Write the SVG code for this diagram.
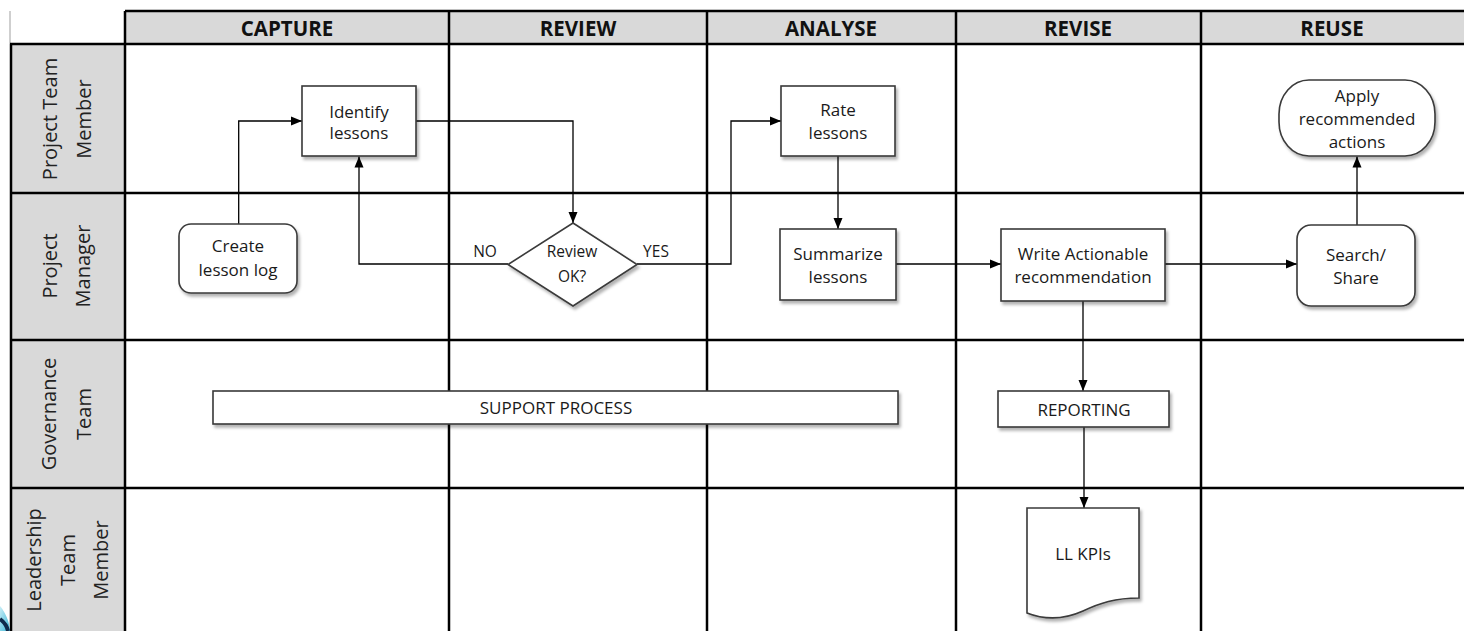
<svg xmlns="http://www.w3.org/2000/svg" width="1464" height="631" viewBox="0 0 1464 631">
<style>
  .grid { stroke: #000; stroke-width: 2.5; fill: none; }
  .lanefill { fill: #d9d9d9; }
  .hdr { font-family: "Open Sans", "Liberation Sans", sans-serif; font-size: 20.5px; font-weight: 700; fill: #111; text-anchor: middle; }
  .lane { font-family: "Open Sans", "Liberation Sans", sans-serif; font-size: 20px; fill: #222; text-anchor: middle; }
  .box { fill: #fff; stroke: #3a3a3a; stroke-width: 1.6; }
  .t { font-family: "Open Sans", "Liberation Sans", sans-serif; font-size: 17px; fill: #1a1a1a; text-anchor: middle; }
  .ts { font-family: "Open Sans", "Liberation Sans", sans-serif; font-size: 15.5px; fill: #1a1a1a; text-anchor: middle; }
  .conn { stroke: #000; stroke-width: 1.3; fill: none; marker-end: url(#arr); }
</style>
<defs>
  <marker id="arr" markerUnits="userSpaceOnUse" markerWidth="12" markerHeight="12" viewBox="0 0 12 12" refX="11" refY="6" orient="auto">
    <path d="M0,1.5 L11,6 L0,10.5 Z" fill="#000"/>
  </marker>
  <filter id="sh" x="-10%" y="-10%" width="130%" height="140%">
    <feDropShadow dx="2" dy="3" stdDeviation="1.6" flood-color="#000" flood-opacity="0.3"/>
  </filter>
  <linearGradient id="sw" x1="0" y1="0" x2="1" y2="1">
    <stop offset="0" stop-color="#c9eef7"/>
    <stop offset="1" stop-color="#3cb6d6"/>
  </linearGradient>
</defs>

<rect width="1464" height="631" fill="#fff"/>

<g id="swimlanes">
  <rect class="lanefill" x="125" y="11" width="1339" height="33"/>
  <rect class="lanefill" x="10" y="44" width="115" height="587"/>
  <line x1="10" y1="11" x2="10" y2="44" stroke="#cfcfcf" stroke-width="2"/>
  <line class="grid" x1="125" y1="11" x2="1464" y2="11"/>
  <line class="grid" x1="10" y1="44" x2="1464" y2="44"/>
  <line class="grid" x1="10" y1="193" x2="1464" y2="193"/>
  <line class="grid" x1="10" y1="340" x2="1464" y2="340"/>
  <line class="grid" x1="10" y1="488" x2="1464" y2="488"/>
  <line class="grid" x1="11" y1="44" x2="11" y2="631"/>
  <line class="grid" x1="125" y1="11" x2="125" y2="631"/>
  <line class="grid" x1="449" y1="11" x2="449" y2="631"/>
  <line class="grid" x1="707" y1="11" x2="707" y2="631"/>
  <line class="grid" x1="956" y1="11" x2="956" y2="631"/>
  <line class="grid" x1="1201" y1="11" x2="1201" y2="631"/>

  <text class="hdr" x="287" y="36">CAPTURE</text>
  <text class="hdr" x="578" y="36">REVIEW</text>
  <text class="hdr" x="831" y="36">ANALYSE</text>
  <text class="hdr" x="1078" y="36">REVISE</text>
  <text class="hdr" x="1332" y="36">REUSE</text>

  <text class="lane" transform="translate(57,119) rotate(-90)">Project Team</text>
  <text class="lane" transform="translate(91,119) rotate(-90)">Member</text>
  <text class="lane" transform="translate(57,266) rotate(-90)">Project</text>
  <text class="lane" transform="translate(90,266) rotate(-90)">Manager</text>
  <text class="lane" transform="translate(56,414) rotate(-90)">Governance</text>
  <text class="lane" transform="translate(91,414) rotate(-90)">Team</text>
  <text class="lane" transform="translate(41,560) rotate(-90)">Leadership</text>
  <text class="lane" transform="translate(75,560) rotate(-90)">Team</text>
  <text class="lane" transform="translate(108,560) rotate(-90)">Member</text>
</g>

<g id="decoration">
  <path d="M0,606 C5,612 9,620 10,631 L0,631 Z" fill="url(#sw)"/>
  <path d="M0,619 C4,622 7,626 8,631" stroke="#0f2a4a" stroke-width="4" fill="none"/>
</g>

<g id="connectors">
  <path class="conn" d="M238.7,224 V121 H302"/>
  <path class="conn" d="M416,121 H573 V223"/>
  <path class="conn" d="M508,264 H359 V156.5"/>
  <path class="conn" d="M637,264 H731 V121 H781"/>
  <path class="conn" d="M838,156 V229"/>
  <path class="conn" d="M896,264 H1001"/>
  <path class="conn" d="M1165,264 H1297"/>
  <path class="conn" d="M1357,225 V156.5"/>
  <path class="conn" d="M1083,301 V391"/>
  <path class="conn" d="M1084,427 V508"/>
</g>

<g id="create-lesson-log">
  <rect class="box" filter="url(#sh)" x="179" y="224" width="118" height="69" rx="12"/>
  <text class="t" x="238" y="252">Create</text>
  <text class="t" x="238" y="276">lesson log</text>
</g>

<g id="identify-lessons">
  <rect class="box" filter="url(#sh)" x="302" y="86" width="114" height="70"/>
  <text class="t" x="359" y="118">Identify</text>
  <text class="t" x="359" y="139">lessons</text>
</g>

<g id="review-ok">
  <polygon class="box" filter="url(#sh)" points="573,223 637,264.5 573,306 508,264.5"/>
  <text class="ts" x="572" y="257">Review</text>
  <text class="ts" x="572" y="282">OK?</text>
  <text class="ts" x="485" y="257">NO</text>
  <text class="ts" x="656" y="257">YES</text>
</g>

<g id="rate-lessons">
  <rect class="box" filter="url(#sh)" x="781" y="86" width="114" height="70"/>
  <text class="t" x="838" y="116">Rate</text>
  <text class="t" x="838" y="139">lessons</text>
</g>

<g id="summarize-lessons">
  <rect class="box" filter="url(#sh)" x="780" y="229" width="116" height="71"/>
  <text class="t" x="838" y="260">Summarize</text>
  <text class="t" x="838" y="283">lessons</text>
</g>

<g id="write-actionable">
  <rect class="box" filter="url(#sh)" x="1001" y="229" width="164" height="72"/>
  <text class="t" x="1083" y="260">Write Actionable</text>
  <text class="t" x="1083" y="283">recommendation</text>
</g>

<g id="search-share">
  <rect class="box" filter="url(#sh)" x="1297" y="225" width="118" height="81" rx="14"/>
  <text class="t" x="1356" y="261">Search/</text>
  <text class="t" x="1356" y="284">Share</text>
</g>

<g id="apply-actions">
  <rect class="box" filter="url(#sh)" x="1279" y="80" width="156" height="76" rx="30" ry="34"/>
  <text class="t" x="1357" y="102">Apply</text>
  <text class="t" x="1357" y="125">recommended</text>
  <text class="t" x="1357" y="148">actions</text>
</g>

<g id="support-process">
  <rect class="box" filter="url(#sh)" x="213" y="391" width="685" height="33"/>
  <text class="t" x="556" y="414">SUPPORT PROCESS</text>
</g>

<g id="reporting">
  <rect class="box" filter="url(#sh)" x="998" y="391" width="171" height="36"/>
  <text class="t" x="1084" y="416">REPORTING</text>
</g>

<g id="ll-kpis">
  <path class="box" filter="url(#sh)" d="M1027,508 H1139 V598 C1115,598 1100,603 1083,611 C1063,620 1045,620 1027,613 Z"/>
  <text class="t" x="1083" y="560">LL KPIs</text>
</g>
</svg>
